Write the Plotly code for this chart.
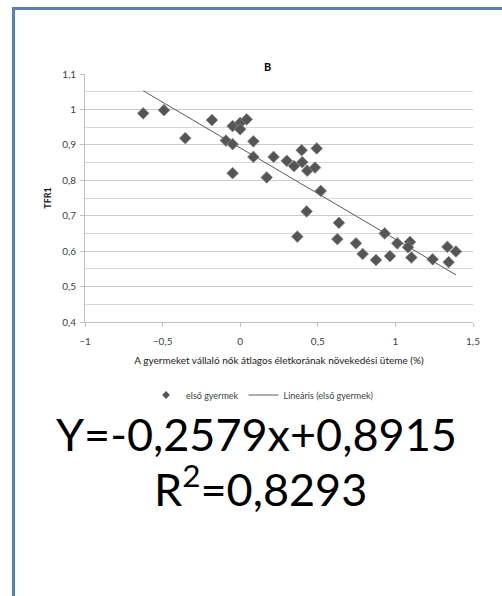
import plotly.graph_objects as go

# ---- data ----
x_vals = [-0.625, -0.491, -0.354, -0.182, -0.092, -0.049, -0.049, 0.000, 0.000, 0.042,
          -0.049, 0.085, 0.085, 0.171, 0.215, 0.300, 0.347, 0.396, 0.400, 0.432,
          0.482, 0.493, 0.519, 0.428, 0.368, 0.636, 0.626, 0.746, 0.789, 0.875,
          0.931, 0.965, 1.012, 1.094, 1.081, 1.103, 1.240, 1.335, 1.343, 1.390]
y_vals = [0.989, 0.998, 0.919, 0.970, 0.912, 0.953, 0.902, 0.962, 0.944, 0.972,
          0.820, 0.910, 0.866, 0.808, 0.866, 0.855, 0.840, 0.885, 0.851, 0.827,
          0.836, 0.890, 0.770, 0.712, 0.641, 0.680, 0.634, 0.622, 0.592, 0.575,
          0.650, 0.586, 0.622, 0.626, 0.611, 0.582, 0.577, 0.612, 0.569, 0.599]
slope = -0.2579
intercept = 0.8915
r_squared = 0.8293

series_name = "első gyermek"
trend_name = "Lineáris (első gyermek)"
title_text = "B"
x_title = "A gyermeket vállaló nők átlagos életkorának növekedési üteme (%)"
y_title = "TFR1"
eq_text = "Y=-0,2579x+0,8915"
r2_text = "R<sup>2</sup>=0,8293"

FONT = "Lato, Open Sans, sans-serif"
MARK = "#555555"

trend_x = [min(x_vals), max(x_vals)]
trend_y = [slope * v + intercept for v in trend_x]

fig = go.Figure()
fig.add_trace(go.Scatter(
    x=x_vals, y=y_vals, mode="markers", name=series_name, showlegend=False,
    marker=dict(symbol="diamond", size=9, color=MARK,
                line=dict(width=0.8, color="#8a8a8a")),
))
fig.add_trace(go.Scatter(
    x=trend_x, y=trend_y, mode="lines", name=trend_name, showlegend=False,
    line=dict(color="#5a5a5a", width=1),
))
# legend entries (small symbols like the reference)
fig.add_trace(go.Scatter(
    x=[None], y=[None], mode="markers", name=series_name,
    marker=dict(symbol="diamond", size=6, color=MARK),
))
fig.add_trace(go.Scatter(
    x=[None], y=[None], mode="lines", name=trend_name,
    line=dict(color="#5a5a5a", width=1),
))

W, H = 502, 596
L, R, T, B = 85, 29, 74, 274
pw = W - L - R
ph = H - T - B

def px(xp):
    return (xp - L) / pw

def py(yp):
    return (H - B - yp) / ph

fig.update_layout(
    width=W, height=H,
    margin=dict(l=L, r=R, t=T, b=B, pad=0),
    paper_bgcolor="white", plot_bgcolor="white",
    separators=", ",
    font=dict(family=FONT, size=10, color="#404040"),
    showlegend=True,
    legend=dict(orientation="h", x=px(262), xanchor="center", y=py(395), yanchor="middle",
                font=dict(size=9, color="#404040"), itemwidth=30,
                bgcolor="rgba(0,0,0,0)", tracegroupgap=0),
    xaxis=dict(range=[-1, 1.5], dtick=0.5, tick0=-1, showgrid=False, zeroline=False,
               showline=True, linecolor="#c0c0c0", linewidth=1,
               ticks="outside", ticklen=4, tickcolor="#c0c0c0", ticklabelstandoff=6,
               tickfont=dict(size=10, color="#404040"),
               title=dict(text=x_title, font=dict(size=10, color="#202020"), standoff=10)),
    yaxis=dict(range=[0.4, 1.1], dtick=0.1, tick0=0.4, showgrid=True, gridcolor="#cbcbcb",
               gridwidth=1, zeroline=False, showline=True, linecolor="#c0c0c0", linewidth=1,
               ticks="outside", ticklen=4, tickcolor="#c0c0c0", ticklabelstandoff=2,
               minor=dict(dtick=0.05, showgrid=True, gridcolor="#d6d6d6", gridwidth=1),
               tickfont=dict(size=10, color="#404040"),
               title=dict(text="<b>" + y_title + "</b>", font=dict(size=9, color="#202020"),
                          standoff=8)),
    shapes=[
        dict(type="line", xref="paper", yref="paper", x0=px(13.5), x1=px(13.5),
             y0=py(7), y1=py(596), line=dict(color="#4F81BD", width=3)),
        dict(type="line", xref="paper", yref="paper", x0=px(12), x1=px(502),
             y0=py(8.5), y1=py(8.5), line=dict(color="#4F81BD", width=3)),
    ],
    annotations=[
        dict(text="<b>" + title_text + "</b>", xref="paper", yref="paper",
             x=px(267), y=py(58), showarrow=False, font=dict(size=11, color="#000000")),
        dict(text=eq_text, xref="paper", yref="paper", x=px(256), y=py(463),
             showarrow=False, font=dict(size=45, color="#000000", family=FONT)),
        dict(text=r2_text, xref="paper", yref="paper", x=px(260), y=py(518),
             showarrow=False, font=dict(size=45, color="#000000", family=FONT)),
    ],
)

fig.write_html(
    "out.html",
    post_script="document.documentElement.style.overflow='hidden';"
                "document.body.style.overflow='hidden';document.body.style.margin='0';",
)
